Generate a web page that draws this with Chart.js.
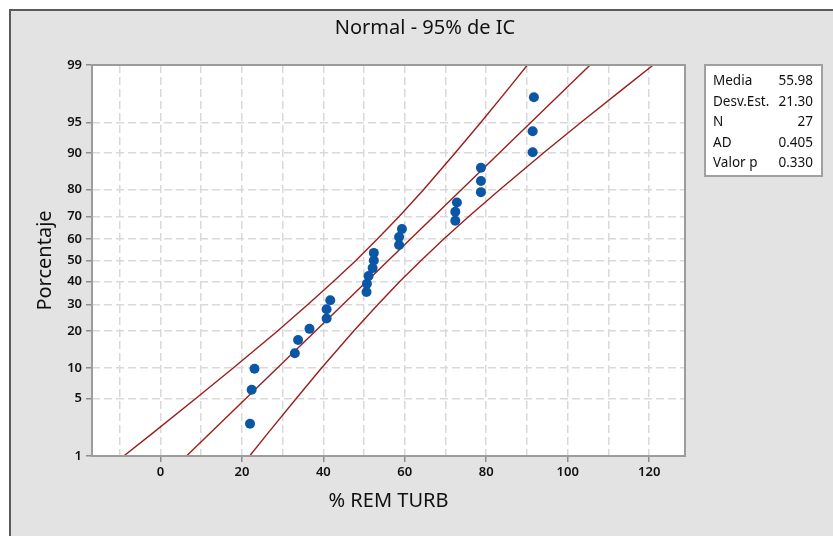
<!DOCTYPE html>
<html>
<head>
<meta charset="utf-8">
<title>Normal - 95% de IC</title>
<script src="https://cdn.jsdelivr.net/npm/chart.js@4.4.1/dist/chart.umd.min.js"></script>
<style>
    html, body { margin: 0; padding: 0; background: #fff; }
    #wrap { width: 833px; height: 536px; }
</style>
</head>
<body>
<div id="wrap"><canvas id="probPlot" width="833" height="536"></canvas></div>
<script>
// % REM TURB, sorted, with their plotting percentages
const remTurb = [22.0, 22.4, 23.1, 33.0, 33.8, 36.6, 40.8, 40.8, 41.7,
                 50.6, 50.7, 51.1, 52.1, 52.4, 52.4, 58.6, 58.6, 59.3,
                 72.4, 72.4, 72.8, 78.7, 78.7, 78.7, 91.4, 91.4, 91.7];
const percentages = [2.6, 6.2, 9.9, 13.5, 17.2, 20.8, 24.5, 28.1, 31.8,
                     35.4, 39.1, 42.7, 46.4, 50.0, 53.6, 57.3, 61.0, 64.6,
                     68.2, 71.9, 75.5, 79.2, 82.8, 86.5, 90.1, 93.8, 97.4];

// fitted normal line, ends at 1% and 99%
const fitX = [6.4, 105.5];
const fitP = [1, 99];

// 95% confidence bounds
const ciP     = [1, 2, 5, 10, 20, 30, 40, 50, 60, 70, 80, 90, 95, 98, 99];
const ciLower = [-9.0, -1.9, 8.6, 17.8, 28.7, 36.2, 42.4, 48.0, 53.2, 58.6, 64.6, 72.4, 78.7, 85.6, 90.1];
const ciUpper = [21.9, 26.4, 33.3, 39.5, 47.4, 53.4, 58.7, 64.0, 69.5, 75.7, 83.3, 94.1, 103.3, 113.9, 121.0];

const yTicks = [1, 5, 10, 20, 30, 40, 50, 60, 70, 80, 90, 95, 99];
const xTicks = [-10, 0, 10, 20, 30, 40, 50, 60, 70, 80, 90, 100, 110, 120];
const xLabels = [0, 20, 40, 60, 80, 100, 120];

const statNames = ['Media', 'Desv.Est.', 'N', 'AD', 'Valor p'];
const statValues = ['55.98', '21.30', '27', '0.405', '0.330'];

const FONT = "'Noto Sans', 'Open Sans', 'DejaVu Sans', sans-serif";

// inverse normal cdf (Acklam)
function probit(p) {
    const a = [-3.969683028665376e+01, 2.209460984245205e+02, -2.759285104469687e+02,
               1.383577518672690e+02, -3.066479806614716e+01, 2.506628277459239e+00];
    const b = [-5.447609879822406e+01, 1.615858368580409e+02, -1.556989798598866e+02,
               6.680131188771972e+01, -1.328068155288572e+01];
    const c = [-7.784894002430293e-03, -3.223964580411365e-01, -2.400758277161838e+00,
               -2.549732516686088e+00, 4.374664141464968e+00, 2.938163982698783e+00];
    const d = [7.784695709041462e-03, 3.224671290700398e-01, 2.445134176482471e+00,
               3.754408661907416e+00];
    const lo = 0.02425;
    let q, r;
    if (p < lo) {
        q = Math.sqrt(-2 * Math.log(p));
        return (((((c[0]*q + c[1])*q + c[2])*q + c[3])*q + c[4])*q + c[5]) /
               ((((d[0]*q + d[1])*q + d[2])*q + d[3])*q + 1);
    }
    if (p > 1 - lo) {
        q = Math.sqrt(-2 * Math.log(1 - p));
        return -(((((c[0]*q + c[1])*q + c[2])*q + c[3])*q + c[4])*q + c[5]) /
                ((((d[0]*q + d[1])*q + d[2])*q + d[3])*q + 1);
    }
    q = p - 0.5;
    r = q * q;
    return (((((a[0]*r + a[1])*r + a[2])*r + a[3])*r + a[4])*r + a[5])*q /
           (((((b[0]*r + b[1])*r + b[2])*r + b[3])*r + b[4])*r + 1);
}

// probability axis: linear in normal quantiles, values in percent
const LinearScale = Chart.LinearScale || Chart.registry.getScale('linear');
class ProbitScale extends LinearScale {
    buildTicks() {
        this.start = this.min;
        this.end = this.max;
        return yTicks.map(v => ({ value: v }));
    }
    getPixelForValue(v) {
        const z0 = probit(this.min / 100);
        const z1 = probit(this.max / 100);
        return this.getPixelForDecimal((probit(v / 100) - z0) / (z1 - z0));
    }
    getValueForPixel(px) {
        let lo = this.min, hi = this.max;
        const target = this.getDecimalForPixel(px);
        for (let i = 0; i < 40; i++) {
            const mid = (lo + hi) / 2;
            if (this.getDecimalForPixel(this.getPixelForValue(mid)) < target) lo = mid; else hi = mid;
        }
        return (lo + hi) / 2;
    }
}
ProbitScale.id = 'probit';
ProbitScale.defaults = LinearScale.defaults;
Chart.register(ProbitScale);

const framePlugin = {
    id: 'frame',
    beforeDraw(chart) {
        const ctx = chart.ctx;
        const a = chart.chartArea;
        ctx.save();
        ctx.fillStyle = '#ffffff';
        ctx.fillRect(0, 0, chart.width, chart.height);
        ctx.fillStyle = '#e3e3e3';
        ctx.fillRect(11, 10, chart.width - 11, chart.height - 10);
        ctx.strokeStyle = '#5a5a5a';
        ctx.lineWidth = 2;
        ctx.beginPath();
        ctx.moveTo(10, chart.height);
        ctx.lineTo(10, 10);
        ctx.lineTo(chart.width, 10);
        ctx.stroke();
        ctx.fillStyle = '#ffffff';
        ctx.fillRect(a.left, a.top, a.right - a.left, a.bottom - a.top);
        ctx.restore();
    },
    afterDraw(chart) {
        const ctx = chart.ctx;
        const a = chart.chartArea;
        ctx.save();
        ctx.strokeStyle = '#9c9c9c';
        ctx.lineWidth = 2;
        ctx.strokeRect(a.left, a.top, a.right - a.left, a.bottom - a.top);

        ctx.fillStyle = '#111';
        ctx.font = '20px ' + FONT;
        ctx.textAlign = 'center';
        ctx.textBaseline = 'middle';
        ctx.fillText('Normal - 95% de IC', 425, 28);

        // stats box
        ctx.fillStyle = '#ffffff';
        ctx.fillRect(705, 65, 117, 111);
        ctx.strokeStyle = '#a0a0a0';
        ctx.strokeRect(705, 65, 117, 111);
        ctx.fillStyle = '#111';
        ctx.font = '13.5px ' + FONT;
        ctx.textBaseline = 'alphabetic';
        statNames.forEach((name, i) => {
            const y = 85 + i * 20.5;
            ctx.textAlign = 'left';
            ctx.fillText(name, 713, y);
            ctx.textAlign = 'right';
            ctx.fillText(statValues[i], 813, y);
        });
        ctx.restore();
    }
};

const tickFont = { family: FONT, size: 13, weight: '600' };
const gridColor = '#d9d9d9';

new Chart(document.getElementById('probPlot'), {
    type: 'scatter',
    data: {
        datasets: [
            {
                label: '% REM TURB',
                data: remTurb.map((x, i) => ({ x: x, y: percentages[i] })),
                pointRadius: 5,
                pointBackgroundColor: '#0b57a5',
                pointBorderColor: '#0b57a5',
                pointBorderWidth: 0,
                showLine: false
            },
            {
                label: 'Ajuste',
                data: fitX.map((x, i) => ({ x: x, y: fitP[i] })),
                showLine: true,
                borderColor: '#9b1d1d',
                borderWidth: 1.4,
                pointRadius: 0
            },
            {
                label: 'IC inferior',
                data: ciLower.map((x, i) => ({ x: x, y: ciP[i] })),
                showLine: true,
                borderColor: '#9b1d1d',
                borderWidth: 1.4,
                pointRadius: 0
            },
            {
                label: 'IC superior',
                data: ciUpper.map((x, i) => ({ x: x, y: ciP[i] })),
                showLine: true,
                borderColor: '#9b1d1d',
                borderWidth: 1.4,
                pointRadius: 0
            }
        ]
    },
    options: {
        responsive: false,
        animation: false,
        events: [],
        layout: {
            padding: { top: 65, right: 148, left: 0, bottom: 0 }
        },
        plugins: {
            legend: { display: false },
            tooltip: { enabled: false }
        },
        scales: {
            x: {
                type: 'linear',
                min: -16.8,
                max: 128.8,
                afterBuildTicks: scale => {
                    scale.ticks = xTicks.map(v => ({ value: v }));
                },
                afterFit: scale => { scale.height = 80; },
                ticks: {
                    autoSkip: false,
                    maxRotation: 0,
                    padding: 2,
                    color: '#111',
                    font: tickFont,
                    callback: v => xLabels.includes(v) ? String(v) : ''
                },
                grid: {
                    color: gridColor,
                    lineWidth: 1.5,
                    tickLength: 6,
                    tickWidth: 1.5,
                    tickColor: c => (c.tick && xLabels.includes(c.tick.value)) ? '#8c8c8c' : 'rgba(0,0,0,0)'
                },
                border: { display: false, dash: [8, 4] },
                title: {
                    display: true,
                    text: '% REM TURB',
                    color: '#111',
                    font: { family: FONT, size: 20 },
                    padding: { top: 0, bottom: 23 }
                }
            },
            y: {
                type: 'probit',
                min: 1,
                max: 99,
                afterFit: scale => { scale.width = 92; },
                ticks: {
                    autoSkip: false,
                    padding: 4,
                    color: '#111',
                    font: tickFont,
                    callback: v => String(v)
                },
                grid: {
                    color: gridColor,
                    lineWidth: 1.5,
                    tickLength: 6,
                    tickWidth: 1.5,
                    tickColor: '#8c8c8c'
                },
                border: { display: false, dash: [8, 4] },
                title: {
                    display: true,
                    text: 'Porcentaje',
                    color: '#111',
                    font: { family: FONT, size: 20 },
                    padding: { top: 33, bottom: 0 }
                }
            }
        }
    },
    plugins: [framePlugin]
});
</script>
</body>
</html>
